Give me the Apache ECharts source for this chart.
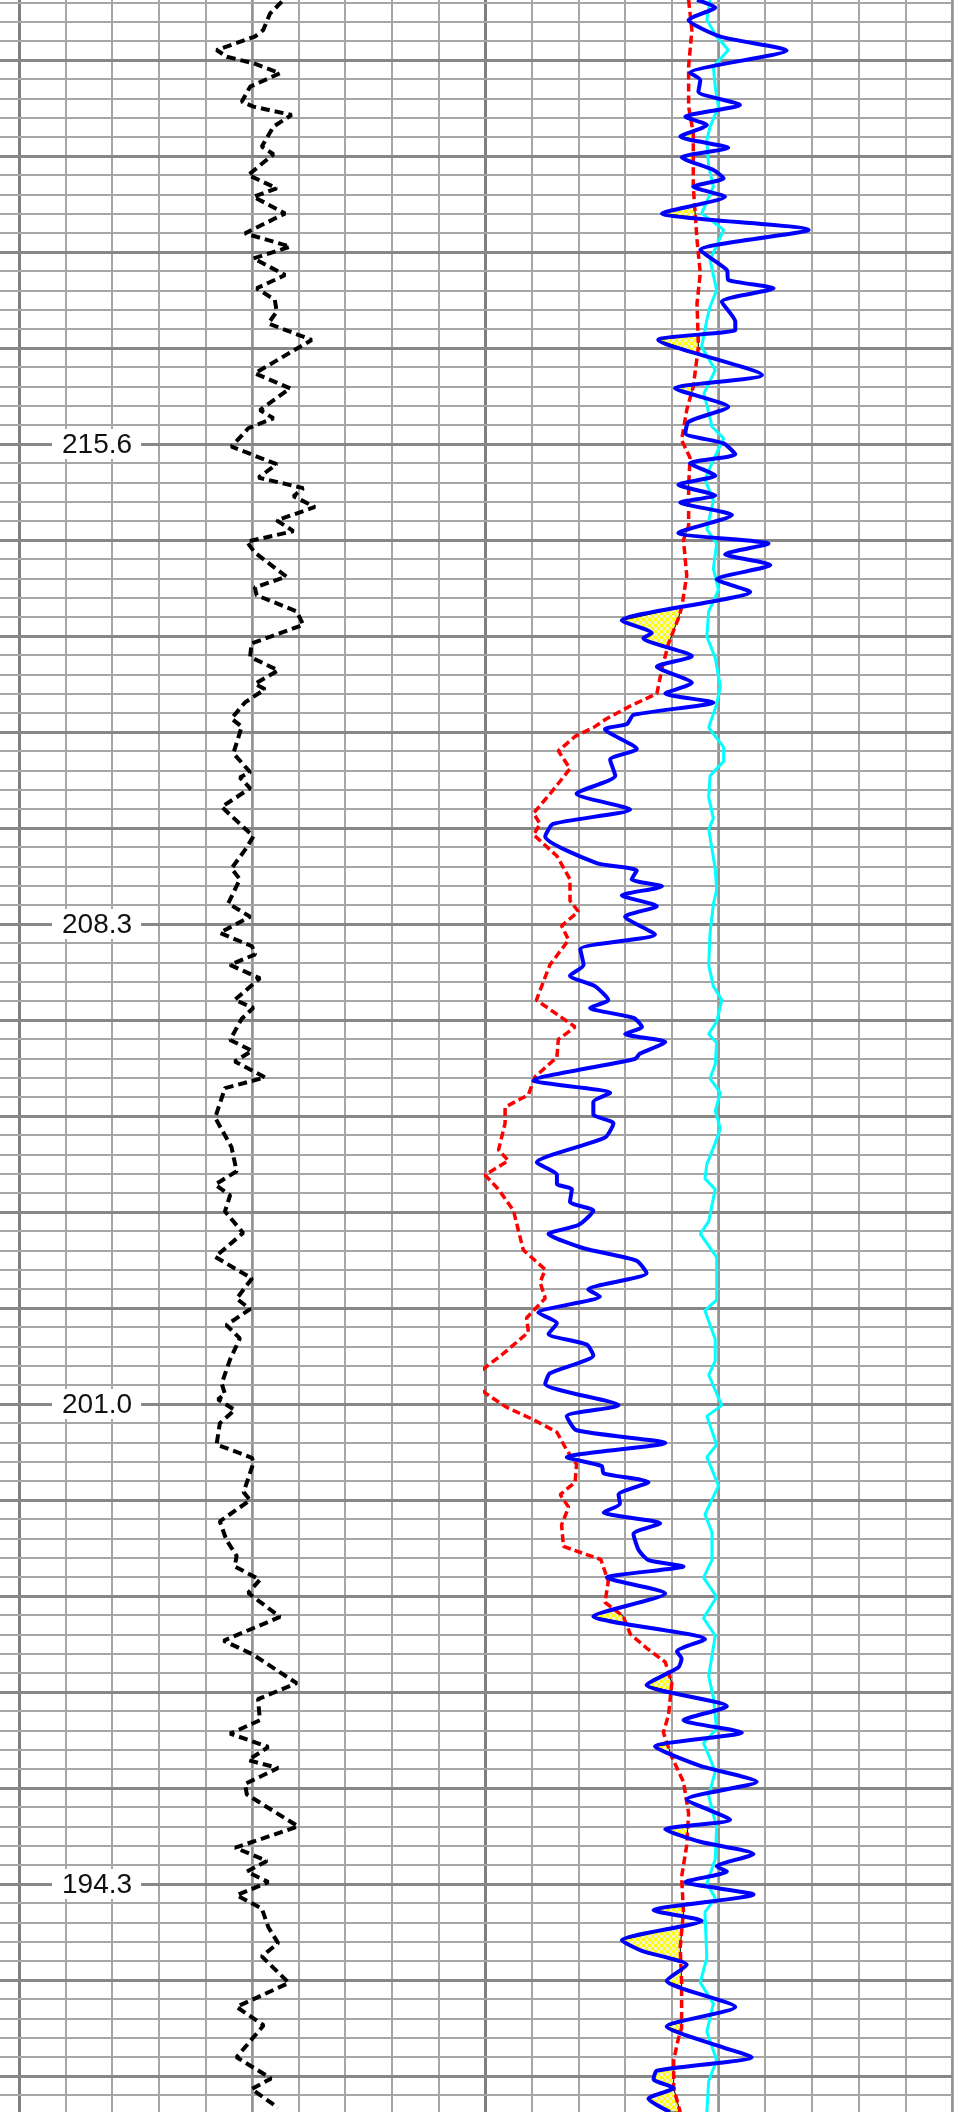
<!DOCTYPE html>
<html><head><meta charset="utf-8">
<script src="https://cdn.jsdelivr.net/npm/echarts@6/dist/echarts.min.js"></script>
<style>html,body{margin:0;padding:0;background:#fff}#c{width:959px;height:2112px}</style>
</head><body><div id="c"></div>
<script>
// depth axis: row position (1 row = one minor grid division); tick labels as printed
const depthTickPos = [0, 25, 50, 75];
const depthTickLabels = ['215.6', '208.3', '201.0', '194.3'];

// left track curve (black dashed)
const blackDepth = [-23.04,-22.43,-21.56,-21.22,-20.52,-20.17,-19.83,-19.31,-18.61,-17.83,-17.57,-17.14,-16.53,-15.49,-15.09,-14.01,-13.32,-12.88,-12.01,-10.97,-10.28,-9.67,-8.80,-8.11,-7.50,-6.89,-6.28,-5.42,-3.68,-2.90,-1.77,-1.34,-0.82,0.14,1.05,1.75,2.30,2.72,3.28,3.98,4.54,5.09,5.65,6.91,7.47,7.88,8.72,9.42,10.39,11.09,11.79,12.49,12.77,13.46,14.30,14.72,16.11,17.09,17.37,17.93,18.90,20.44,21.14,22.11,22.67,23.93,24.62,25.46,26.16,26.58,27.13,27.83,28.95,29.37,29.93,31.04,31.60,32.16,32.99,33.55,35.09,36.62,37.88,38.57,39.13,39.97,41.09,42.34,43.46,44.51,45.06,45.89,46.58,47.68,48.93,49.48,49.76,50.31,51.00,52.11,52.80,53.07,54.59,55.01,56.11,57.08,57.91,58.46,59.15,59.84,61.09,62.33,63.02,64.54,65.37,66.47,67.17,67.86,68.55,68.96,69.79,70.34,72.00,73.11,73.80,74.35,74.90,75.59,76.28,77.25,78.08,78.77,80.15,81.40,82.36,84.02,85.13,85.68,86.65];
const blackValue = [56.4,53.9,52.4,50.6,42.4,44.6,50.3,56.0,49.6,47.8,50.3,58.5,54.6,52.1,54.6,49.2,55.3,50.3,57.1,48.5,58.2,50.3,57.1,51.0,54.9,55.3,53.5,62.8,50.6,58.2,51.7,54.6,49.2,45.6,55.3,51.4,61.0,58.9,63.5,55.3,58.9,48.9,50.6,57.4,50.6,51.0,59.6,61.0,49.9,49.6,55.6,50.6,52.8,48.5,45.6,47.8,46.0,49.6,47.4,49.6,43.5,50.3,48.5,45.6,47.4,44.9,49.6,43.1,50.0,50.7,45.3,51.7,46.3,50.3,47.8,45.3,50.0,46.3,52.8,44.2,42.1,45.6,46.7,42.1,45.3,44.2,48.1,42.1,50.0,46.7,49.6,44.5,47.4,45.3,43.5,44.2,42.7,46.3,43.1,42.4,50.0,50.3,48.2,49.6,43.1,44.5,46.7,46.3,51.7,49.2,56.0,43.9,50.0,59.6,51.3,51.7,45.3,53.5,49.2,55.6,48.5,48.9,59.9,46.4,53.2,48.9,53.5,46.7,52.1,53.5,55.6,52.1,57.9,46.7,52.5,46.7,54.1,49.9,55.6];

// right track curves
const blueDepth = [-23.13,-22.74,-22.08,-21.22,-20.49,-19.34,-18.96,-18.35,-17.66,-17.05,-16.61,-16.01,-15.43,-14.93,-14.27,-13.84,-13.40,-12.88,-12.01,-11.15,-10.10,-9.06,-8.54,-8.11,-7.41,-6.37,-5.94,-5.42,-3.59,-2.90,-1.94,-1.16,-0.56,-0.03,0.54,1.00,1.65,2.12,2.68,3.05,3.70,4.63,5.19,5.74,6.30,7.05,7.70,9.19,9.84,10.12,11.05,11.60,12.44,13.00,13.46,14.11,14.58,14.86,15.88,16.44,17.28,18.21,19.04,19.79,20.44,21.83,22.21,22.67,23.04,23.51,24.07,24.62,25.55,26.30,27.13,27.69,28.25,28.96,29.37,29.89,30.36,30.73,31.15,31.75,32.03,33.15,33.80,34.26,34.91,35.38,36.12,37.42,38.07,38.54,38.82,39.47,39.93,40.68,41.14,41.89,42.54,43.19,44.03,44.40,45.24,45.79,46.35,46.91,47.47,48.40,48.96,50.07,50.63,51.37,52.03,52.77,53.23,53.61,54.07,54.72,55.19,55.65,56.21,56.77,57.61,58.13,58.46,59.04,59.87,61.06,62.25,62.89,63.26,63.72,64.64,65.74,66.47,67.11,67.84,68.85,69.68,70.59,71.66,72.15,72.80,73.44,74.08,74.35,74.90,75.55,76.37,76.92,77.93,78.48,79.21,80.04,81.41,82.42,83.52,84.02,84.72,85.17,85.63,86.18,86.88];
const blueValue = [45.4,49.3,43.6,50.4,64.6,43.9,46.1,45.7,54.6,42.9,47.5,41.8,52.1,42.1,48.9,51.1,44.6,51.4,37.9,69.3,46.1,51.8,52.1,61.8,50.7,53.6,53.6,37.1,59.3,40.7,52.1,43.6,42.9,51.1,53.6,43.9,49.3,41.4,49.3,41.8,52.9,41.4,60.7,51.4,61.1,49.6,56.8,29.3,35.7,33.9,44.3,36.8,44.3,38.6,48.9,31.8,30.4,25.7,32.5,26.8,27.9,19.6,31.1,14.6,12.9,23.9,32.5,31.4,37.9,29.3,36.8,30.0,36.4,20.4,21.1,18.2,23.6,26.4,22.5,31.8,33.6,30.0,38.6,33.2,32.1,10.4,26.8,23.2,23.2,27.5,25.7,11.1,15.4,15.4,18.6,18.2,23.2,20.0,13.6,21.1,32.5,34.6,22.1,24.6,11.4,15.4,13.6,21.8,23.2,13.9,12.9,28.6,17.5,19.6,38.6,17.5,25.0,25.4,35.0,28.6,28.9,25.4,37.5,31.8,32.9,35.0,42.5,26.1,38.6,23.2,47.1,41.1,42.1,41.4,34.6,51.8,42.5,55.0,36.4,46.1,58.2,43.2,52.5,38.6,46.1,57.5,49.6,51.8,42.9,57.5,36.1,46.4,29.3,33.6,43.2,38.9,53.6,38.9,51.1,57.1,36.8,36.1,40.4,35.0,39.6];

const redDepth = [-23.13,-21.56,-19.65,-17.57,-16.18,-13.40,-10.63,-8.89,-7.33,-5.07,-2.99,-1.77,-0.21,0.72,2.21,4.26,5.00,6.86,8.53,9.09,10.39,11.70,13.00,13.65,14.30,14.77,15.23,15.98,16.91,18.11,19.23,19.79,20.35,21.46,22.67,23.79,24.35,25.09,25.83,27.13,28.96,29.70,30.36,31.01,31.94,32.96,33.89,34.54,35.38,36.77,37.33,38.07,38.82,39.93,41.98,43.00,43.66,44.49,45.52,46.26,47.38,48.58,49.42,50.17,50.82,51.47,52.40,53.14,54.07,54.72,55.37,56.30,57.42,58.10,59.23,60.33,61.06,61.98,62.71,63.44,64.54,66.19,67.11,68.39,69.68,71.33,72.98,74.63,76.46,78.30,80.13,82.51,83.06,84.17,85.63,86.88];
const redValue = [43.6,44.3,43.6,43.6,44.6,44.6,45.4,46.1,45.4,45.7,44.6,43.2,42.1,43.9,43.6,43.6,42.5,43.2,42.1,41.4,39.3,37.9,36.8,31.1,26.1,23.2,19.3,15.7,18.2,14.3,10.4,11.8,10.4,15.4,18.2,18.2,20.0,16.4,17.9,13.9,11.0,15.4,19.3,15.7,15.4,10.7,9.3,4.3,4.3,2.9,5.0,0.0,2.9,6.1,8.2,12.9,11.8,12.9,8.9,9.3,3.9,-2.5,0.0,4.6,10.4,15.4,17.5,19.6,19.3,16.1,17.9,16.4,16.8,24.8,26.4,25.7,29.6,31.1,34.6,38.6,40.0,39.3,38.2,40.0,42.5,43.6,43.2,42.1,42.5,41.8,42.1,42.1,41.4,40.4,40.4,41.8];

const cyanDepth = [-23.13,-22.08,-21.22,-20.52,-19.65,-18.61,-17.57,-16.53,-15.83,-14.44,-13.40,-12.01,-11.15,-9.58,-8.02,-7.15,-6.46,-5.07,-3.85,-2.64,-0.90,-0.30,0.83,1.84,2.95,4.44,5.19,6.49,7.60,8.72,10.02,11.14,12.63,13.56,14.77,15.79,16.53,17.28,18.39,19.51,20.07,22.11,23.23,23.97,25.46,27.13,28.25,28.96,30.08,30.73,31.19,32.31,33.05,33.80,34.73,35.66,36.40,37.52,38.26,38.82,40.49,41.14,42.35,44.58,45.14,46.63,47.75,48.49,50.07,50.63,52.12,52.77,54.26,55.75,56.68,58.13,59.04,60.05,61.15,62.07,64.18,65.28,66.93,67.66,69.13,70.41,72.06,73.71,74.97,75.73,76.46,78.85,80.13,81.23,82.70,84.17,85.27,86.88];
const cyanValue = [48.2,47.5,49.6,52.1,48.9,49.3,50.0,48.2,47.5,47.9,48.9,46.4,51.1,48.2,49.6,48.2,47.5,46.4,49.3,46.9,48.6,51.1,48.9,47.1,48.9,47.5,49.6,48.9,50.0,47.9,47.5,49.3,50.4,49.6,47.9,51.1,51.1,48.2,47.9,48.9,47.9,49.3,49.6,48.9,48.2,47.9,48.9,50.7,49.6,47.9,49.6,49.3,48.2,50.4,49.3,50.4,49.3,47.5,47.1,49.3,47.9,46.1,49.6,49.6,47.1,49.3,49.3,47.9,50.7,47.5,49.6,47.5,50.0,47.1,48.6,48.6,46.8,49.6,46.8,49.3,47.9,48.9,49.6,46.8,49.3,47.9,49.6,49.3,47.5,49.3,47.1,47.5,46.1,48.9,47.5,49.6,47.9,47.5];

function pairs(depths, values) { return depths.map((u, i) => [values[i], u]); }
function interp(ds, vs, u) {
  if (u <= ds[0]) return vs[0];
  if (u >= ds[ds.length - 1]) return vs[vs.length - 1];
  let i = 1; while (ds[i] < u) i++;
  const t = (u - ds[i - 1]) / (ds[i] - ds[i - 1]);
  return vs[i - 1] + t * (vs[i] - vs[i - 1]);
}
// regions where blue lies left of red
function fillRegions() {
  const lo = Math.max(blueDepth[0], redDepth[0]), hi = Math.min(blueDepth[blueDepth.length - 1], redDepth[redDepth.length - 1]);
  const us = Array.from(new Set(blueDepth.concat(redDepth))).filter(u => u >= lo && u <= hi).sort((a, b) => a - b);
  const regions = []; let cur = null; let prev = null;
  for (const u of us) {
    const b = interp(blueDepth, blueValue, u), r = interp(redDepth, redValue, u), d = r - b;
    if (prev && ((prev.d > 0) !== (d > 0))) {
      const t = prev.d / (prev.d - d);
      const uc = prev.u + t * (u - prev.u), xc = prev.b + t * (b - prev.b);
      if (cur) { cur.push([uc, xc, xc]); regions.push(cur); cur = null; }
      else cur = [[uc, xc, xc]];
    } else if (!prev && d > 0) cur = [];
    if (d > 0 && cur) cur.push([u, b, r]);
    prev = { u, b, r, d };
  }
  if (cur && cur.length) regions.push(cur);
  return regions;
}

const pc = document.createElement('canvas'); pc.width = 6; pc.height = 6;
const pcx = pc.getContext('2d');
pcx.fillStyle = '#f2f2c4'; pcx.fillRect(0, 0, 6, 6);
pcx.fillStyle = '#ffff00'; pcx.fillRect(0, 0, 3, 3); pcx.fillRect(3, 3, 3, 3);
const yellowPattern = { image: pc, repeat: 'repeat' };

const PX_PER_ROW = 19.2, ROW0_Y = 444, H = 2112, Y_MIN = -25, Y_MAX = 90;
const gTop = ROW0_Y + Y_MIN * PX_PER_ROW;
const gBottom = H - (ROW0_Y + Y_MAX * PX_PER_ROW);

const minor = '#a6a6a6', major = '#878787';
function trackY(gi, pos, showLine) {
  return { gridIndex: gi, type: 'value', inverse: true, min: Y_MIN, max: Y_MAX, position: pos,
    axisLine: { show: showLine, lineStyle: { color: '#7f7f7f', width: 3 } }, axisTick: { show: false },
    axisLabel: { show: false }, splitLine: { show: false } };
}
function trackX(gi, interval, color, width) {
  return { gridIndex: gi, type: 'value', min: 0, max: 100, interval: interval,
    axisLine: { show: false }, axisTick: { show: false }, axisLabel: { show: false },
    splitLine: { show: true, lineStyle: { color: color, width: width } } };
}
function gridAt(left, width, right) {
  const g = { top: gTop, bottom: gBottom, containLabel: false, outerBoundsMode: 'none' };
  g.left = left; if (width != null) g.width = width; else g.right = right;
  return g;
}

const chart = echarts.init(document.getElementById('c'), null, { renderer: 'canvas' });
chart.setOption({
  animation: false,
  backgroundColor: '#ffffff',
  grid: [ gridAt(0, null, 7), gridAt(19, 466), gridAt(485, 467) ],
  xAxis: [
    { gridIndex: 0, type: 'value', min: 0, max: 1, show: false },
    trackX(1, 10, minor, 2),
    trackX(2, 10, minor, 2),
    trackX(1, 50, '#929292', 2.5),
    trackX(2, 50, '#929292', 2.5)
  ],
  yAxis: [
    { gridIndex: 0, type: 'value', inverse: true, min: Y_MIN, max: Y_MAX, interval: 5, z: 1,
      axisLine: { show: false }, axisTick: { show: false },
      minorTick: { show: false, splitNumber: 5 },
      splitLine: { show: true, lineStyle: { color: major, width: 3 } },
      minorSplitLine: { show: true, lineStyle: { color: minor, width: 2 } },
      axisLabel: { inside: true, margin: 52,
        formatter: function (v) { const i = depthTickPos.indexOf(v); return i < 0 ? '' : '{b|' + depthTickLabels[i] + '}'; },
        rich: { b: { fontSize: 28, fontFamily: 'Liberation Sans, Arial, sans-serif', color: '#111111', backgroundColor: '#ffffff', padding: [2, 9, 0, 10] } } } },
    trackY(1, 'left', true),
    trackY(2, 'left', true),
    trackY(2, 'right', true)
  ],
  series: [
    { type: 'line', xAxisIndex: 1, yAxisIndex: 1, data: pairs(blackDepth, blackValue), showSymbol: false, silent: true,
      lineStyle: { color: '#000000', width: 4, type: [9, 5] } },
    { type: 'custom', xAxisIndex: 2, yAxisIndex: 2, data: [[0, 0]], silent: true,
      renderItem: function (params, api) {
        const regs = fillRegions();
        return { type: 'group', children: regs.map(reg => {
          const pts = reg.map(p => api.coord([p[1], p[0]])).concat(reg.slice().reverse().map(p => api.coord([p[2], p[0]])));
          return { type: 'polygon', shape: { points: pts }, style: { fill: yellowPattern, stroke: '#000000', lineWidth: 1 } };
        }) };
      } },
    { type: 'line', xAxisIndex: 2, yAxisIndex: 2, data: pairs(cyanDepth, cyanValue), showSymbol: false, silent: true,
      lineStyle: { color: '#00ffff', width: 3 } },
    { type: 'line', xAxisIndex: 2, yAxisIndex: 2, data: pairs(redDepth, redValue), showSymbol: false, silent: true, clip: false,
      lineStyle: { color: '#ff0000', width: 3.5, type: [8, 4] } },
    { type: 'line', xAxisIndex: 2, yAxisIndex: 2, data: pairs(blueDepth, blueValue), showSymbol: false, silent: true,
      smooth: 0.2, lineStyle: { color: '#0000ff', width: 4 } }
  ]
});
</script>
</body></html>
